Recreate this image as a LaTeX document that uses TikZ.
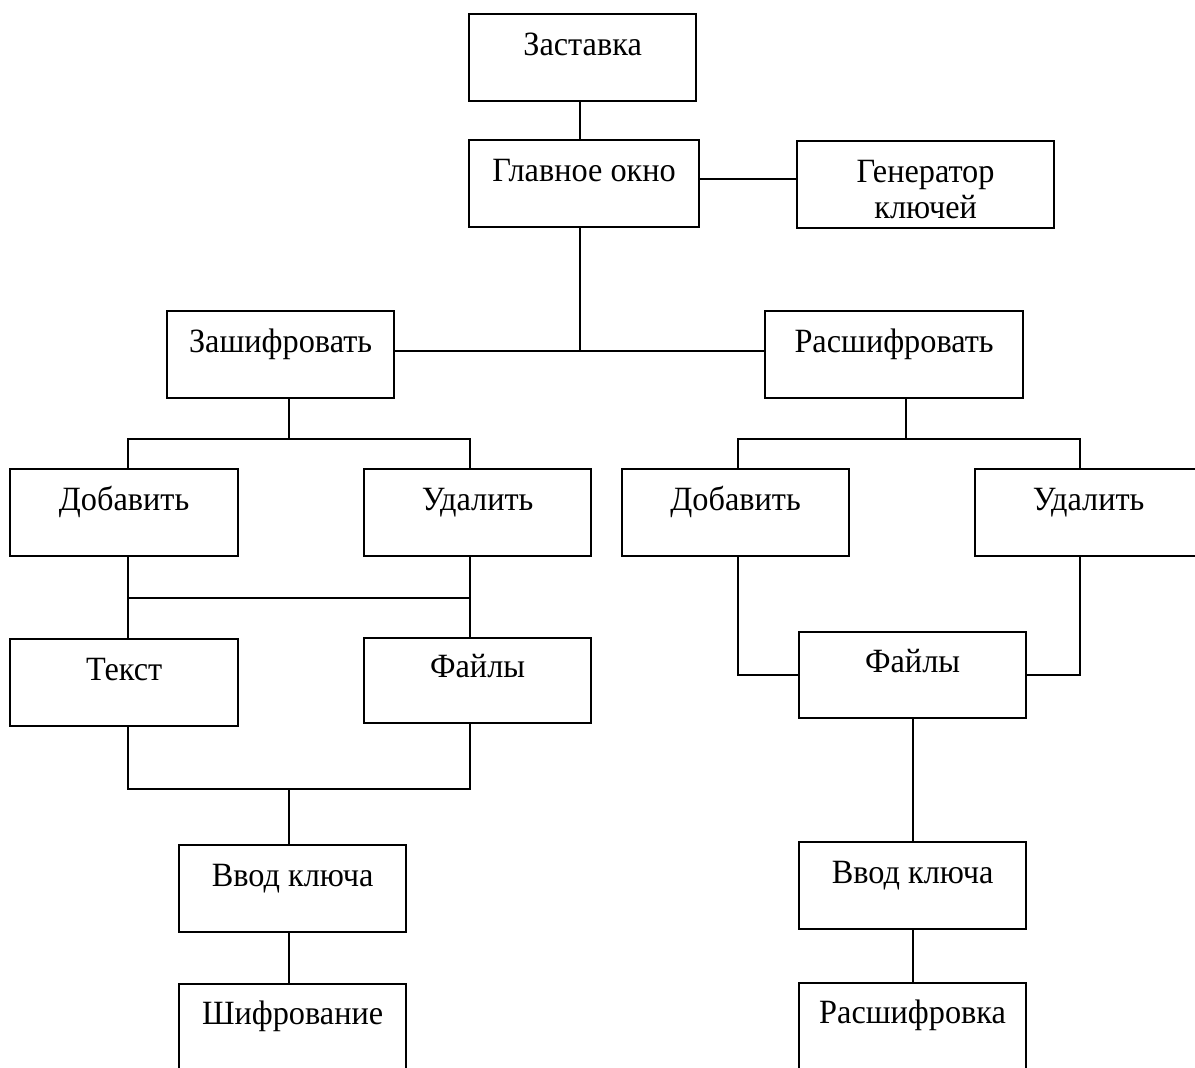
\documentclass[tikz,border=0pt]{standalone}
\usepackage{fontspec}
\setmainfont{Liberation Serif}[FakeStretch=0.95]
\begin{document}
\begin{tikzpicture}[x=0.5pt,y=-0.5pt]
\tikzset{
  blk/.style={draw, line width=1.1pt, anchor=north west, inner sep=0pt,
    minimum width=#1, align=center, text height=20.5pt, text depth=23pt,
    font=\fontsize{17}{17.5}\selectfont},
  tall/.style={text depth=45pt},
  conn/.style={line width=1.1pt},
}
\useasboundingbox (0,0) rectangle (1195,1068);
\clip (0,0) rectangle (1195,1068);
\fill[white] (0,0) rectangle (1195,1068);

% boxes
\node[blk=113.5pt] (zast) at (468,13) {Заставка};
\node[blk=115pt] (glav) at (468,139) {Главное окно};
\node[blk=128.5pt, font=\fontsize{17}{18}\selectfont, text height=38.5pt, text depth=5pt] (gen) at (796,140) {Генератор\\ключей};
\node[blk=113.5pt] (zash) at (166,310) {Зашифровать};
\node[blk=129pt] (rassh) at (764,310) {Расшифровать};
\node[blk=114pt] (dob1) at (9,468) {Добавить};
\node[blk=113.5pt] (ud1) at (363,468) {Удалить};
\node[blk=113.5pt] (dob2) at (621,468) {Добавить};
\node[blk=113.5pt] (ud2) at (974,468) {Удалить};
\node[blk=114pt] (tekst) at (9,638) {Текст};
\node[blk=113.5pt, text height=19.5pt] (fail1) at (363,637) {Файлы};
\node[blk=113.5pt, text height=20pt] (fail2) at (798,631) {Файлы};
\node[blk=113.5pt] (vvod1) at (178,844) {Ввод ключа};
\node[blk=113.5pt] (vvod2) at (798,841) {Ввод ключа};
\node[blk=113.5pt, tall, text height=20pt] (shifr) at (178,983) {Шифрование};
\node[blk=113.5pt, tall, text height=20pt] (rshk) at (798,982) {Расшифровка};

% junction coordinates
\coordinate (cg) at (0,179);
\coordinate (jm) at (580,351);
\coordinate (jl) at (289,439);
\coordinate (jla) at (128,439);
\coordinate (jlb) at (470,439);
\coordinate (hl) at (0,598);
\coordinate (hb) at (0,789);
\coordinate (jr) at (906,439);
\coordinate (jra) at (738,439);
\coordinate (jrb) at (1080,439);

% connectors
\draw[conn] (zast.south -| jm) -- (glav.north -| jm);
\draw[conn] (glav.east |- cg) -- (gen.west |- cg);
\draw[conn] (glav.south -| jm) -- (jm);
\draw[conn] (zash.east |- jm) -- (rassh.west |- jm);

\draw[conn] (zash.south -| jl) -- (jl);
\draw[conn] (dob1.north -| jla) -- (jla) -- (jlb) -- (ud1.north -| jlb);
\draw[conn] (dob1.south -| jla) -- (tekst.north -| jla);
\draw[conn] (ud1.south -| jlb) -- (fail1.north -| jlb);
\draw[conn] (jla |- hl) -- (jlb |- hl);
\draw[conn] (tekst.south -| jla) -- (jla |- hb) -- (jlb |- hb) -- (fail1.south -| jlb);
\draw[conn] (jl |- hb) -- (vvod1.north -| jl);
\draw[conn] (vvod1.south -| jl) -- (shifr.north -| jl);

\draw[conn] (rassh.south -| jr) -- (jr);
\draw[conn] (dob2.north -| jra) -- (jra) -- (jrb) -- (ud2.north -| jrb);
\draw[conn] (dob2.south -| jra) |- (fail2.west);
\draw[conn] (ud2.south -| jrb) |- (fail2.east);
\draw[conn] (fail2.south) -- (vvod2.north);
\draw[conn] (vvod2.south) -- (rshk.north);
\end{tikzpicture}
\end{document}
